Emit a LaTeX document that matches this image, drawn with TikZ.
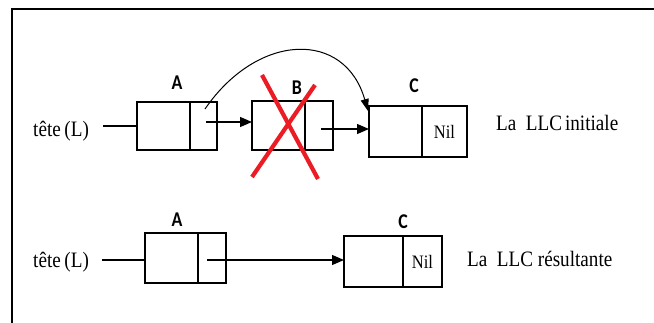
\documentclass[tikz,border=0pt]{standalone}
\usepackage{fontspec}
\setmainfont{Liberation Serif}[FakeStretch=0.87]
\newfontfamily\lblfont{Carlito}[FakeStretch=0.85]
\usetikzlibrary{arrows.meta}
\definecolor{xred}{RGB}{236,28,36}
\begin{document}
\begin{tikzpicture}[x=1pt,y=-1pt,
  cell/.style={draw, line width=1.3pt, inner sep=0pt, outer sep=0pt},
  ptr/.style={line width=1.3pt, -{Triangle[length=12pt,width=10pt]}},
  lbl/.style={inner sep=0pt, font=\lblfont\bfseries\fontsize{21}{23}\selectfont},
  txt/.style={inner sep=0pt, anchor=base west, font=\fontsize{22}{24}\selectfont},
  niltxt/.style={inner sep=0pt, font=\fontsize{19}{21}\selectfont},
  cross/.style={xred, line width=4.2pt}]
\useasboundingbox (0,0) rectangle (654,323);
% frame
\draw[line width=1.6pt] (12,330) -- (12,9) -- (660,9);

% ---------- initial list ----------
\node[cell, minimum width=53pt, minimum height=48pt] (A1d) at (163.5,126) {};
\node[cell, minimum width=27pt, minimum height=48pt] (A1p) at (203.5,126) {};
\node[cell, minimum width=53pt, minimum height=49pt] (B1d) at (278.5,125.5) {};
\node[cell, minimum width=28pt, minimum height=49pt] (B1p) at (319,125.5) {};
\node[cell, minimum width=53pt, minimum height=51pt] (C1d) at (395.5,131.5) {};
\node[cell, minimum width=45pt, minimum height=51pt] (C1p) at (444.5,131.5) {};
\node[niltxt] (nil1) at (C1p.center) {Nil};

\node[lbl] (la1) at (177,83) {A};
\node[lbl] (lb1) at (297,88) {B};
\node[lbl] (lc1) at (414,86) {C};

\node[txt] (tete1) at (33,137) {tête\,(L)};
\node[txt] (t1) at (496,131) {La\ \ LLC\hspace{3pt}initiale};

\coordinate (h1) at (103,126);
\draw[line width=1.3pt] (h1) -- (h1 -| A1d.west);
\coordinate (a1s) at (206,122);
\draw[ptr] (a1s) -- (a1s -| B1d.west);
\coordinate (b1s) at (321,129);
\draw[ptr] (b1s) -- (b1s -| C1d.west);
\coordinate (cs) at (205,109);
\coordinate (ce) at (368,111);
\draw[line width=1pt, -{Triangle[length=12pt,width=8pt]}] (cs) .. controls (258,32) and (345,30) .. (ce);

% red cross over B
\draw[cross] (262,75) -- (318,179);
\draw[cross] (315,85) -- (252,177);

% ---------- resulting list ----------
\node[cell, minimum width=53pt, minimum height=50pt] (A2d) at (171.5,258) {};
\node[cell, minimum width=28pt, minimum height=50pt] (A2p) at (212,258) {};
\node[cell, minimum width=59pt, minimum height=51pt] (C2d) at (373.5,261.5) {};
\node[cell, minimum width=39pt, minimum height=51pt] (C2p) at (422.5,261.5) {};
\node[niltxt] (nil2) at (C2p.center) {Nil};

\node[lbl] (la2) at (177,220) {A};
\node[lbl] (lc2) at (403,222) {C};

\node[txt] (tete2) at (33,268) {tête\,(L)};
\node[txt] (t2) at (467,267) {La\ \ LLC résultante};

\coordinate (h2) at (102,260);
\draw[line width=1.3pt] (h2) -- (h2 -| A2d.west);
\coordinate (a2s) at (207,260);
\draw[ptr] (a2s) -- (a2s -| C2d.west);
\end{tikzpicture}
\end{document}
